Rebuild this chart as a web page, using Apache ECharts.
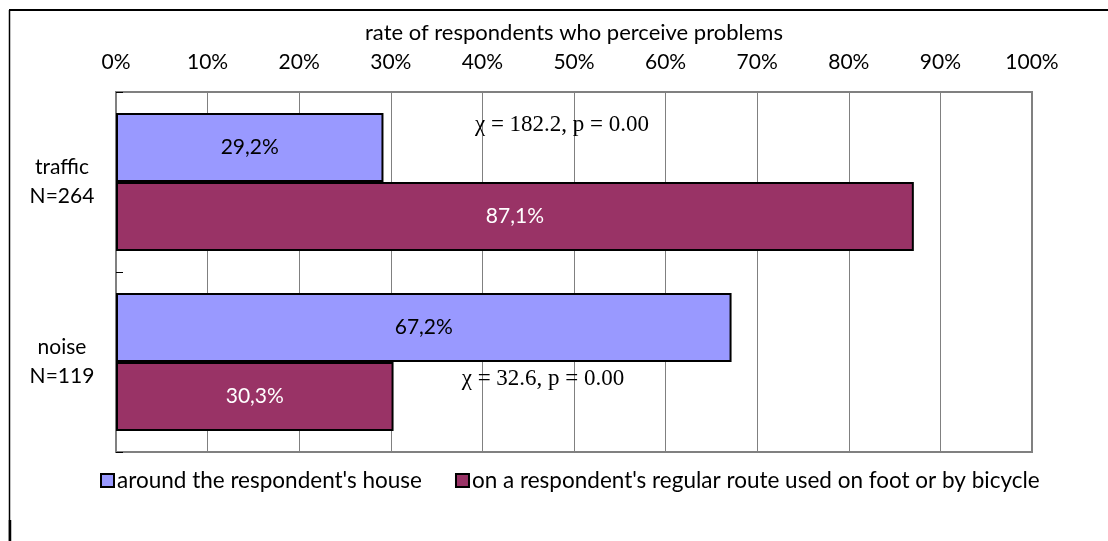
<!DOCTYPE html>
<html>
<head>
<meta charset="utf-8">
<script src="https://cdn.jsdelivr.net/npm/echarts@6/dist/echarts.min.js"></script>
<style>
  html, body { margin: 0; padding: 0; background: #fff; }
  #chart { width: 1108px; height: 541px; }
</style>
</head>
<body>
<div id="chart"></div>
<script>
// Problem categories, top to bottom
const categories = ['traffic\nN=264', 'noise\nN=119'];
// Share of respondents perceiving the problem (%)
const aroundHouse = [29.2, 67.2];
const onRoute = [87.1, 30.3];
const tickValues = [0, 10, 20, 30, 40, 50, 60, 70, 80, 90, 100];
const seriesNames = ["around the respondent's house", "on a respondent's regular route used on foot or by bicycle"];
const chiLabels = ['\u03c7 = 182.2, p = 0.00', '\u03c7 = 32.6, p = 0.00'];

const sans = 'Lato, "Open Sans", sans-serif';
const serif = '"Liberation Serif", "DejaVu Serif", serif';

const chart = echarts.init(document.getElementById('chart'));

const fmtPct = v => v.toFixed(1).replace('.', ',') + '%';

chart.setOption({
  animation: false,
  backgroundColor: '#fff',
  grid: {
    left: 116, right: 76, top: 92, bottom: 89,
    show: true, borderColor: '#808080', borderWidth: 2, backgroundColor: 'transparent'
  },
  legend: {
    bottom: 44,
    left: 95,
    itemWidth: 13, itemHeight: 13, itemGap: 33,
    icon: 'rect',
    textStyle: { fontFamily: sans, fontSize: 22.5, color: '#000', padding: [0, 0, 0, -2] },
    data: seriesNames.map(n => ({ name: n, itemStyle: { borderColor: '#000', borderWidth: 2 } }))
  },
  xAxis: {
    type: 'value',
    position: 'top',
    min: tickValues[0],
    max: tickValues[tickValues.length - 1],
    interval: 10,
    name: 'rate of respondents who perceive problems',
    nameLocation: 'middle',
    nameGap: 48,
    nameTextStyle: { fontFamily: sans, fontSize: 22, color: '#000' },
    axisLine: { show: false },
    axisTick: { show: false },
    axisLabel: { margin: 19, fontFamily: sans, fontSize: 21, color: '#000', formatter: '{value}%' },
    splitLine: { show: true, lineStyle: { color: '#808080', width: 1 } }
  },
  yAxis: {
    type: 'category',
    inverse: true,
    data: categories,
    axisLine: { show: true, lineStyle: { color: '#808080', width: 2 } },
    axisTick: { show: true, inside: true, length: 7, lineStyle: { color: '#000', width: 1 } },
    axisLabel: { margin: 54, align: 'center', fontFamily: sans, fontSize: 21, lineHeight: 29, color: '#000' },
    splitLine: { show: false }
  },
  series: [
    {
      name: seriesNames[0],
      type: 'bar',
      data: aroundHouse,
      barWidth: 69,
      barGap: '0%',
      itemStyle: { color: '#9999FF', borderColor: '#000', borderWidth: 2 },
      label: { show: true, position: 'inside', fontFamily: sans, fontSize: 21, color: '#000',
               formatter: p => fmtPct(p.value) }
    },
    {
      name: seriesNames[1],
      type: 'bar',
      data: onRoute,
      barWidth: 69,
      barGap: '0%',
      itemStyle: { color: '#993366', borderColor: '#000', borderWidth: 2 },
      label: { show: true, position: 'inside', fontFamily: sans, fontSize: 21, color: '#fff',
               formatter: p => fmtPct(p.value) }
    }
  ],
  graphic: [
    { type: 'line', shape: { x1: 9, y1: 10, x2: 1108, y2: 10 }, style: { stroke: '#000', lineWidth: 2 }, z: 100 },
    { type: 'line', shape: { x1: 9.5, y1: 10, x2: 9.5, y2: 541 }, style: { stroke: '#000', lineWidth: 1.5 }, z: 100 },
    { type: 'line', shape: { x1: 10, y1: 520, x2: 10, y2: 541 }, style: { stroke: '#000', lineWidth: 2.5 }, z: 100 },
    { type: 'text', x: 562, y: 125, z: 100,
      style: { text: chiLabels[0], font: '23px ' + serif, fill: '#000', align: 'center', verticalAlign: 'middle' } },
    { type: 'text', x: 543, y: 379, z: 100,
      style: { text: chiLabels[1], font: '23px ' + serif, fill: '#000', align: 'center', verticalAlign: 'middle' } }
  ]
});
</script>
</body>
</html>
